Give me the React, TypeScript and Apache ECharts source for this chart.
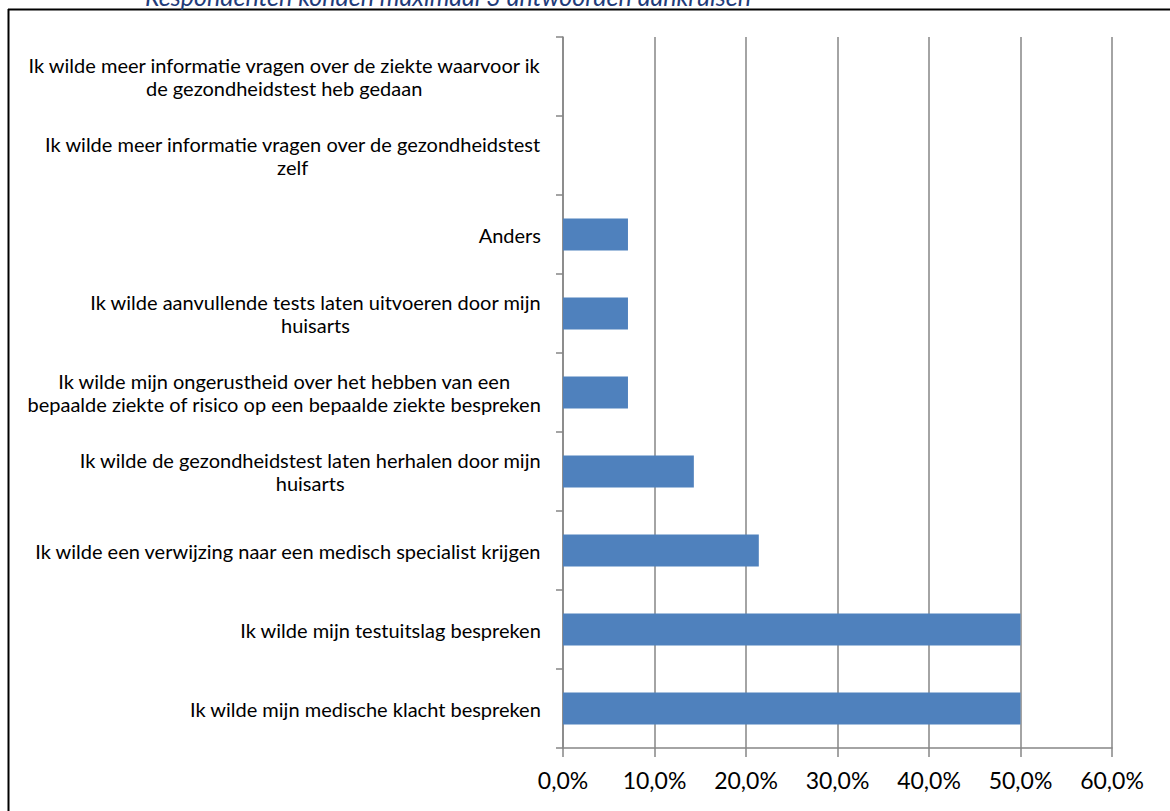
import React, { useEffect, useRef } from "react";
import * as echarts from "echarts";

const categories: string[] = [
  "Ik wilde mijn medische klacht bespreken",
  "Ik wilde mijn testuitslag bespreken",
  "Ik wilde een verwijzing naar een medisch specialist krijgen",
  "Ik wilde de gezondheidstest laten herhalen door mijn\nhuisarts",
  "Ik wilde mijn ongerustheid over het hebben van een\nbepaalde ziekte of risico op een bepaalde ziekte bespreken",
  "Ik wilde aanvullende tests laten uitvoeren door mijn\nhuisarts",
  "Anders",
  "Ik wilde meer informatie vragen over de gezondheidstest\nzelf",
  "Ik wilde meer informatie vragen over de ziekte waarvoor ik\nde gezondheidstest heb gedaan",
];
const values: number[] = [50.0, 50.0, 21.4, 14.3, 7.1, 7.1, 7.1, 0, 0];
const noteText = "Respondenten konden maximaal 3 antwoorden aankruisen";

const FONT = "Lato, 'Open Sans', sans-serif";

export default function App() {
  const ref = useRef<HTMLDivElement>(null);
  useEffect(() => {
    if (!ref.current) return;
    const chart = echarts.init(ref.current, null, { renderer: "svg" });
    chart.setOption({
      animation: false,
      backgroundColor: "#ffffff",
      textStyle: { fontFamily: FONT },
      grid: { left: 563, right: 58, top: 37, bottom: 63, containLabel: false },
      xAxis: {
        type: "value",
        min: 0,
        max: 60,
        interval: 10,
        axisLine: { show: true, lineStyle: { color: "#868686", width: 1.5 } },
        axisTick: { show: true, length: 9, lineStyle: { color: "#868686", width: 1.5 } },
        splitLine: { show: true, lineStyle: { color: "#868686", width: 1.5 } },
        axisLabel: {
          color: "#000000",
          fontSize: 23,
          fontFamily: FONT,
          margin: 20,
          formatter: (v: number) => v.toFixed(1).replace(".", ",") + "%",
        },
      },
      yAxis: {
        type: "category",
        data: categories,
        axisLine: { show: true, lineStyle: { color: "#868686", width: 1.5 } },
        axisTick: { show: true, length: 7, lineStyle: { color: "#868686", width: 1.5 } },
        splitLine: { show: false },
        axisLabel: {
          color: "#000000",
          fontSize: 20,
          fontFamily: FONT,
          margin: 22,
          align: "right",
          lineHeight: 23,
          formatter: (v: string) =>
            v.split("\n").map((l) => "{c|" + l + "}").join("\n"),
          rich: { c: { align: "center", fontSize: 20, lineHeight: 23, fontFamily: FONT, color: "#000000" } },
        },
      },
      series: [
        {
          type: "bar",
          data: values,
          barWidth: 32,
          itemStyle: { color: "#4F81BD" },
        },
      ],
      graphic: [
        { type: "line", shape: { x1: 8.5, y1: 9, x2: 8.5, y2: 811 }, style: { stroke: "#000000", lineWidth: 2 } },
        { type: "line", shape: { x1: 8, y1: 9.5, x2: 1170, y2: 9.5 }, style: { stroke: "#000000", lineWidth: 2 } },
        {
          type: "text",
          x: 145,
          y: 8,
          style: {
            text: noteText,
            fill: "#1F3C7A",
            font: "italic 25px " + FONT,
            verticalAlign: "bottom",
            align: "left",
          },
        },
      ],
    });
    return () => chart.dispose();
  }, []);
  return (
    <div
      ref={ref}
      style={{ position: "fixed", left: 0, top: 0, width: 1170, height: 811 }}
    />
  );
}
